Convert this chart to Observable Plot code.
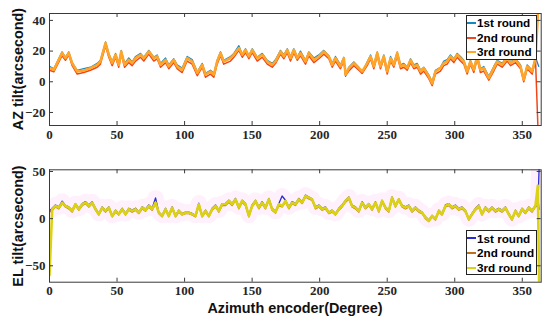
<!DOCTYPE html>
<html><head><meta charset="utf-8">
<script src="https://cdn.jsdelivr.net/npm/d3@7"></script>
<script src="https://cdn.jsdelivr.net/npm/@observablehq/plot@0.6"></script>
<style>
body{margin:0;background:#fff;}
#wrap{position:relative;width:550px;height:323px;overflow:hidden;background:#fff;}
.pl{position:absolute;left:0;}
.ylab,.xlab{position:absolute;font-family:"Liberation Sans",Arial,sans-serif;font-weight:bold;font-size:14.4px;color:#111;white-space:nowrap;}
.ylab{transform:translate(-50%,-50%) rotate(-90deg);}
.xlab{transform:translate(-50%,-50%);}
.legend{position:absolute;border:1px solid #222;background:#fff;box-sizing:border-box;padding-top:0.5px;}
.legend div{height:14.6px;line-height:14.6px;font-family:"Liberation Sans",Arial,sans-serif;font-weight:bold;font-size:11.7px;color:#000;white-space:nowrap;}
.legend span.sw{display:inline-block;width:9px;height:2px;vertical-align:middle;margin-right:1px;margin-top:-2px;}
</style></head>
<body><div id="wrap"></div>
<script>
// ---- data ----
const xTicks = [0,50,100,150,200,250,300,350];
const azTicks = [-20,0,20,40];
const elTicks = [-50,0,50];
const roundNames = ["1st round","2nd round","3rd round"];

const azDeg = [0,3.2,9.3,11.8,14.3,16.8,20.5,25.4,30.3,35.3,
37.7,41.5,43.9,46.4,48.9,51.3,53.1,55.6,58.7,61.2,
63.7,67.4,69.8,73.5,77.2,79.7,82.2,85.9,88.3,92,
94.5,98.2,101.9,105.6,109.4,113.1,115.5,119.2,121.7,124.1,
126.6,129,134,136.5,140.2,142.7,145.1,147.6,150.1,153.8,
157.5,161.2,164.9,167.4,171,173.5,176,178.4,180.9,183.4,
185.8,189.5,192,195.7,199.4,203.1,206.8,209.3,211.7,215.4,
217.9,219.2,221.6,225.3,229,231.5,235.2,237.7,240.1,242.6,
245,247.5,250,252.5,254.9,257.4,259.9,262.3,264.8,267.3,
269.7,272.2,274.7,277.1,280.8,283.3,285.7,289.4,291.9,294.4,
296.8,299.3,301.8,304.2,306.7,309.2,311.6,314.1,316.6,319,
321.5,325.2,328.9,331.4,335.1,338.8,341.3,345,348.7,351.1,
353.6,357.3,359.8,362.2];

const azRound1 = [10,8.5,19.5,16,19.5,12.5,7.5,8.5,9.5,12,
14,26,18.5,13,18.5,12,20.5,12,15.5,13,
16.5,18.5,16,20.5,16,17.5,12,15.5,11,15,
11,9,16.5,14.5,6.5,12,5.5,7.5,5.5,14,
19.5,14,16.5,18.5,23.5,18,21.5,17,21.5,16,
18.5,14,12,14.5,20.5,17.5,21.5,16.5,21.5,16,
20,14,19.5,15.5,17.5,20.5,17,12,16.5,11,
16,3.5,9.5,13,9.5,5.5,13,17.5,11,19.5,
11,17.5,7.5,16.5,12,19.5,11,12,9.5,15,
11,12,7.5,9.5,4.5,0,7.5,9.5,13.5,14.5,
17.5,15,18.5,16.5,14,7.5,14,8.5,17.5,8.5,
10,3.5,10,14,12,16.5,13,15,11,2,
11,7.5,16,10];

const azRound2 = [7.5,6.5,17,14,17.5,10.5,5,6,7.5,9.5,
11.5,23.5,16,10.5,16,9.5,18,9.5,12.5,10.5,
13.5,16,13.5,18,13.5,15,9.5,12.5,8.5,12.5,
8.5,6,13.5,11.5,4,9.5,3,5,3,11.5,
17,11.5,13.5,16,20.5,16,19,15,19,13.5,
16,11.5,9.5,12,18,15,19,13.5,19,14,
17,11.5,17,12.5,15,18,15,9.5,13.5,8.5,
13.5,4,7,10.5,7.5,5.5,10.5,15,8.5,17,
8.5,15,5,13.5,9.5,17,8.5,9.5,7.5,12.5,
8.5,9.5,5,7,2,-2.5,5,7,10.5,11.5,
15,12.5,16,13.5,11.5,5,11.5,6,15,6,
7,1,7,11.5,9.5,13.5,10.5,12.5,8.5,0,
8.5,5,14,-45];

const azRound3 = [9,7.8,18.7,15.4,18.7,12,6.7,7.4,8.9,11,
13.2,25.2,17.6,12.2,17.6,11,19.7,11,14.3,12.2,
15.4,17.6,15.4,19.7,15.4,16.5,11,14.3,10,14.3,
10,7.8,15.4,13.2,5.7,11,4.6,6.7,4.6,13.2,
18.7,13.2,15.4,17.6,22,17.6,20.8,16.5,20.8,15.4,
17.6,13.2,11,13.5,19.7,16.5,20.8,15.4,20.8,15.4,
18.7,13.2,18.7,14.3,16.5,19.7,16.5,11,15.4,10,
15.4,4.6,8.9,12.2,8.9,6.7,12.2,16.5,10,18.7,
10,16.5,6.7,15.4,11,18.7,10,11,8.9,14.3,
10,11,6.7,8.9,3.5,-1,6.7,8.9,12.2,13.2,
16.5,14.3,17.6,15.4,13.2,6.7,13.2,7.8,16.5,7.8,
8.9,2.4,8.9,13.2,11,15.4,12.2,14.3,10,1.3,
10,6.7,15.4,55];

const elDeg = [0,2,4.4,6.9,9.4,11.8,14.3,16.8,19.2,21.7,
24.2,26.7,29.1,31.6,34.1,36.5,39,41.5,43.9,46.4,
48.9,51.3,53.8,56.3,58.7,61.2,63.7,66.1,68.6,71.1,
73.5,76,78.5,80.9,83.4,85.9,88.3,90.8,93.3,95.7,
98.2,100.7,103.1,105.6,108.1,110.5,113,115.5,118,120.4,
122.9,125.4,127.8,130.3,132.8,135.2,137.7,140.2,142.6,145.1,
147.6,150,152.5,155,157.4,159.9,162.4,164.8,167.3,169.8,
172.2,174.7,177.2,179.6,182.1,184.6,187,189.5,192,194.4,
196.9,199.4,201.8,204.3,206.8,209.2,211.7,214.2,216.6,219.1,
221.6,224,226.5,229,231.4,233.9,236.4,238.8,241.3,243.8,
246.2,248.7,251.2,253.6,256.1,258.6,261,263.5,266,268.4,
270.9,273.4,275.8,278.3,280.8,283.2,285.7,288.2,290.6,293.1,
295.6,298,300.5,303,305.4,307.9,310.4,312.8,315.3,317.8,
320.2,322.7,325.2,327.6,330.1,332.6,335,337.5,340,342.4,
344.9,347.4,349.8,352.3,354.8,357.2,359.7,361.5,362.5];

const elRound1 = [8,11,14.5,12.5,18.5,14,12.5,9,16,11,
16,18,14.5,18,11,5.5,12.5,9,12.5,3.5,
9,5.5,11,5.5,11,9,11,7,12.5,10,
14.5,11,22,7,3.5,11,3.5,12.5,3.5,9,
5.5,7,7,5.5,3.5,16.5,3.5,9,3.5,11,
14.5,9,16,16,19.5,16,21.5,12.5,19.5,16,
3.5,14.5,19.5,12.5,18,12.5,21.5,11,7.5,16,
24,19.5,12.5,18,16,21.5,18,25,23,21,
12.5,14.5,11,12.5,7,9,5.5,11,14.5,19.5,
23,14.5,12.5,9,18,12.5,16,11,18,9,
19.5,12.5,9,23,14.5,21,14.5,12.5,14.5,9,
12.5,9,7,2,-1.5,3.5,0,9,5.5,14.5,
16,12.5,14.5,11,12.5,9,0,5.5,11,14.5,
5.5,12.5,9,12.5,9,11,9,12.5,5.5,0,
9,3.5,11,7,12.5,9,14,12,55];

const elRound2 = [7,9,12.5,10.5,16,12.5,10.5,7,14,9,
14,16,12.5,16,9,4,10.5,7,10.5,2,
7,4,9,4,9,7,9,5.5,10.5,8,
12.5,9,16,5.5,2,9,2,10.5,2,7,
4,5.5,5.5,4,2,14,2,7,2,9,
12.5,7,14,14,17.5,14,19.5,10.5,17.5,14,
2,12.5,17.5,10.5,16,10.5,19.5,9,6,14,
12.5,17.5,10.5,16,14,19.5,16,23,21,19.5,
10.5,12.5,9,10.5,5.5,7,4,9,12.5,17.5,
21,12.5,10.5,7,16,10.5,14,9,16,7,
17.5,10.5,7,21,12.5,19.5,12.5,10.5,12.5,7,
10.5,7,5.5,0,-3,2,-1.5,7,4,12.5,
14,10.5,12.5,9,10.5,7,-1.5,4,9,12.5,
4,10.5,7,10.5,7,9,7,10.5,4,-1.5,
7,2,9,5.5,10.5,7,12.5,20,10];

const elRound3 = [-60,10,13.5,11.7,17,13.5,11.7,8.2,15.3,10,
15.3,17,13.5,17,10,4.7,11.7,8.2,11.7,2.9,
8.2,4.7,10,4.7,10,8.2,10,6.4,11.7,9,
13.5,10,17,6.4,2.9,10,2.9,11.7,2.9,8.2,
4.7,6.4,6.4,4.7,2.9,15.3,2.9,8.2,2.9,10,
13.5,8.2,15.3,15.3,18.8,15.3,20.5,11.7,18.8,15.3,
2.9,13.5,18.8,11.7,17,11.7,20.5,10,7,15.3,
13.5,18.8,11.7,17,15.3,20.5,17,24,22.3,20.5,
11.7,13.5,10,11.7,6.4,8.2,4.7,10,13.5,18.8,
22.3,13.5,11.7,8.2,17,11.7,15.3,10,17,8.2,
18.8,11.7,8.2,22.3,13.5,20.5,13.5,11.7,13.5,8.2,
11.7,8.2,6.4,1.2,-2.3,2.9,-0.5,8.2,4.7,13.5,
15.3,11.7,13.5,10,11.7,8.2,-0.5,4.7,10,13.5,
4.7,11.7,8.2,11.7,8.2,10,8.2,11.7,4.7,-0.5,
8.2,2.9,10,6.4,11.7,8.2,13.5,35,-70];

const azColors = ["#1587c2","#f0461a","#ffa628"];
const elColors = ["#2a2ad6","#c0701c","#dcd214"];

// ---- drawing ----
const wrap = document.getElementById("wrap");
const ML = 49, MR = 9.3, W = 550;
const frameW = W - ML - MR;
const widths = [1.3, 1.5, 2.6];

function panel({deg, series, colors, yDomain, yTicks, height, mt, mb, top, haze}) {
  const H = height - mt - mb;
  const marks = [];
  if (haze) {
    marks.push(Plot.line(deg.map((d,i)=>({deg:d, v:series[0][i]})), {x:"deg", y:"v", stroke:"#ff3fd0", strokeWidth:16, strokeOpacity:0.07, strokeLinejoin:"round", clip:true}));
  }
  series.forEach((vals,k)=>{
    marks.push(Plot.line(deg.map((d,i)=>({deg:d, v:vals[i]})), {x:"deg", y:"v", stroke:colors[k], strokeWidth:widths[k], strokeLinejoin:"round", clip:true}));
  });
  marks.push(Plot.frame({stroke:"#3a3a3a", strokeWidth:1}));
  // inward tick marks
  marks.push(Plot.ruleX(xTicks, {x:d=>d, insetTop:H-4, stroke:"#3a3a3a"}));
  marks.push(Plot.ruleX(xTicks, {x:d=>d, insetBottom:H-4, stroke:"#3a3a3a"}));
  marks.push(Plot.ruleY(yTicks, {y:d=>d, insetRight:frameW-4, stroke:"#3a3a3a"}));
  marks.push(Plot.ruleY(yTicks, {y:d=>d, insetLeft:frameW-4, stroke:"#3a3a3a"}));
  marks.push(Plot.axisX(xTicks, {tickSize:0, tickPadding:4, fontSize:13, fontWeight:"bold", fill:"#262626", label:null}));
  marks.push(Plot.axisY(yTicks, {tickSize:0, tickPadding:4, fontSize:13, fontWeight:"bold", fill:"#262626", label:null}));
  const svg = Plot.plot({
    width: W, height,
    marginTop: mt, marginBottom: mb, marginLeft: ML, marginRight: MR,
    style: {fontFamily:"'Liberation Serif','Times New Roman',serif", background:"transparent"},
    x: {domain:[0,364]},
    y: {domain:yDomain},
    marks
  });
  svg.classList.add("pl");
  svg.style.top = top + "px";
  wrap.appendChild(svg);
}

panel({deg:azDeg, series:[azRound1,azRound2,azRound3], colors:azColors, yDomain:[-28.5,44.5], yTicks:azTicks, height:160, mt:13, mb:35, top:0});
panel({deg:elDeg, series:[elRound1,elRound2,elRound3], colors:elColors, yDomain:[-67.4,51.8], yTicks:elTicks, height:163, mt:9.3, mb:41.3, top:160, haze:true});

function label(cls, text, x, y) {
  const d = document.createElement("div");
  d.className = cls; d.textContent = text;
  d.style.left = x + "px"; d.style.top = y + "px";
  wrap.appendChild(d);
}
label("ylab", "AZ tilt(arcsecond)", 18, 69);
label("ylab", "EL tilt(arcsecond)", 18, 225.5);
label("xlab", "Azimuth encoder(Degree)", 295, 308);

function legend(x, y, colors) {
  const box = document.createElement("div");
  box.className = "legend";
  box.style.left = x + "px"; box.style.top = y + "px";
  box.style.width = "70.5px"; box.style.height = "45px";
  roundNames.forEach((n,i)=>{
    const row = document.createElement("div");
    const sw = document.createElement("span");
    sw.className = "sw"; sw.style.background = colors[i];
    row.appendChild(sw);
    row.appendChild(document.createTextNode(n));
    box.appendChild(row);
  });
  wrap.appendChild(box);
}
legend(466, 14.5, azColors);
legend(466, 230, elColors);
</script>
</body></html>
